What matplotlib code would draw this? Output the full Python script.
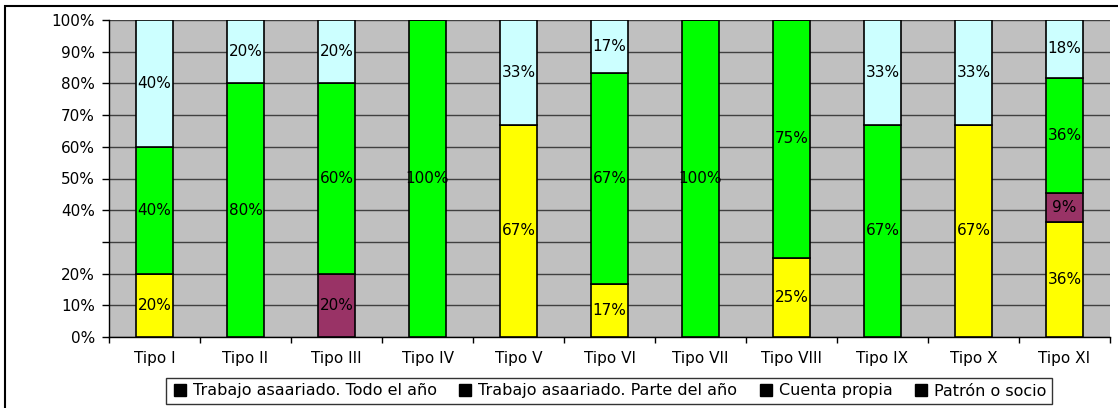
import matplotlib.pyplot as plt
import numpy as np
from matplotlib.patches import Rectangle
from matplotlib.lines import Line2D

categories = ['Tipo I', 'Tipo II', 'Tipo III', 'Tipo IV', 'Tipo V', 'Tipo VI',
              'Tipo VII', 'Tipo VIII', 'Tipo IX', 'Tipo X', 'Tipo XI']
series_names = ['Trabajo asaariado. Todo el año', 'Trabajo asaariado. Parte del año',
                'Cuenta propia', 'Patrón o socio']
todo_anio = [20, 0, 0, 0, 67, 17, 0, 25, 0, 67, 36]
parte_anio = [0, 0, 20, 0, 0, 0, 0, 0, 0, 0, 9]
cuenta_propia = [40, 80, 60, 100, 0, 67, 100, 75, 67, 0, 36]
patron_socio = [40, 20, 20, 0, 33, 17, 0, 0, 33, 33, 18]
ytick_vals = [0, 10, 20, 30, 40, 50, 60, 70, 80, 90, 100]
ytick_labels = ['0%', '10%', '20%', '', '40%', '50%', '60%', '70%', '80%', '90%', '100%']

colors = ['#FFFF00', '#993366', '#00FF00', '#CCFFFF']
W, H = 1118, 408

fig = plt.figure(figsize=(W / 100, H / 100), dpi=100)
ax = fig.add_axes([109 / W, 1 - 337 / H, (1110 - 109) / W, (337 - 20) / H])
ax.set_facecolor('#C0C0C0')

# outer chart border (left and top visible)
fig.add_artist(Rectangle((5 / W, -0.05), 1.2, 1 - 6 / H + 0.05, transform=fig.transFigure,
                         fill=False, edgecolor='black', linewidth=1.5))

x = np.arange(len(categories))
data = np.array([todo_anio, parte_anio, cuenta_propia, patron_socio], dtype=float)
shares = data / data.sum(axis=0) * 100  # 100% stacked
bottom = np.zeros(len(categories))
for raw, vals, col in zip(data, shares, colors):
    ax.bar(x, vals, width=0.41, bottom=bottom, color=col, edgecolor='black',
           linewidth=1.2, zorder=3)
    for xi, b, v, r in zip(x, bottom, vals, raw):
        if r > 0:
            ax.text(xi, b + v / 2, f'{int(r)}%', ha='center', va='center',
                    fontsize=11, zorder=4)
    bottom += vals

ax.set_xlim(-0.5, len(categories) - 0.5)
ax.set_ylim(0, 100)
ax.set_yticks(ytick_vals)
ax.set_yticklabels(ytick_labels, fontsize=11)
ax.yaxis.grid(True, color='#404040', linewidth=1, zorder=1)
ax.set_axisbelow(True)
ax.tick_params(axis='y', length=5, width=1, pad=5)

ax.set_xticks(x)
ax.set_xticklabels(categories, fontsize=11)
ax.tick_params(axis='x', length=0, pad=10)
ax.set_xticks(np.arange(len(categories) + 1) - 0.5, minor=True)
ax.tick_params(axis='x', which='minor', length=4, width=1, direction='out')

for s in ['top', 'right']:
    ax.spines[s].set_visible(False)
ax.spines['left'].set_linewidth(1)
ax.spines['bottom'].set_linewidth(1)

handles = [Line2D([], [], marker='s', color='black', linestyle='none', markersize=8)
           for _ in series_names]
leg = fig.legend(handles, series_names, loc='center', ncol=4,
                 bbox_to_anchor=((168 + 1050) / 2 / W, 1 - 391 / H),
                 fontsize=11.5, frameon=True, fancybox=False, edgecolor='black',
                 handletextpad=0.3, columnspacing=1.3, borderpad=0.35, handlelength=1.0)
leg.get_frame().set_linewidth(1)

fig.savefig('out.png', dpi=100)
